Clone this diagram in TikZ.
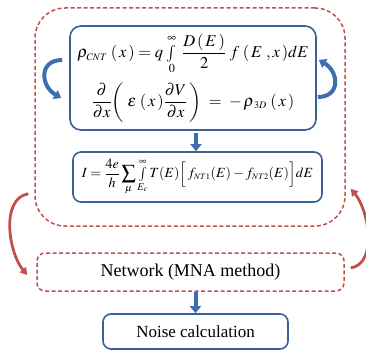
\documentclass[tikz,border=0pt]{standalone}
\usepackage{amsmath}
\usepackage{mathptmx}
\usepackage{fontspec}
\setmainfont{Liberation Serif}
\usepackage{tikz}
\usetikzlibrary{positioning, arrows.meta, calc}

\definecolor{boxblue}{RGB}{56,97,150}
\definecolor{arrowblue}{RGB}{62,110,175}
\definecolor{dashred}{RGB}{192,80,77}

\newcommand{\tinyint}{\mathop{\textstyle\int}\limits}

\begin{document}
\begin{tikzpicture}[x=1pt, y=1pt,
    eqbox/.style={rectangle, draw=boxblue, line width=1.6pt, rounded corners=11pt,
                  align=center, inner sep=0pt},
    redbox/.style={rectangle, draw=dashred, line width=1.5pt, dash pattern=on 4pt off 2.5pt,
                   rounded corners=8pt, inner sep=0pt},
    downarrow/.style={-{Triangle[length=7pt, width=11pt]}, line width=4pt, draw=arrowblue},
    bluecurve/.style={-{Triangle[length=7pt, width=10pt]}, line width=4pt, draw=arrowblue},
    redcurve/.style={-{Triangle[length=7pt, width=8pt]}, line width=2.8pt, draw=dashred}
]
    \useasboundingbox (0,0) rectangle (366,351);

    % Outer loop
    \node[redbox, rounded corners=30pt, minimum width=310pt, minimum height=218pt] (outer) at (190,234) {};

    % Poisson and charge equations
    \node[eqbox, minimum width=246pt, minimum height=104pt, font=\fontsize{16.5}{19}\selectfont] (poisson) at (193,273)
        {$\displaystyle \rho_{\scriptscriptstyle CNT}\;(\,x\,)= q\,\tinyint_{0}^{\infty}\;\frac{D\,(\,E\,)}{2}\;f\;(\,E\;,x\,)dE$\\[7pt]
         $\displaystyle \frac{\partial}{\partial x}\!\left(\;\varepsilon\;(\,x\,)\frac{\partial V}{\partial x}\,\right) \;=\; -\,\rho_{\,\scriptscriptstyle 3D}\;(\,x\,)$};

    % Current equation
    \node[eqbox, rounded corners=8pt, minimum width=249pt, minimum height=50pt, font=\fontsize{14}{17}\selectfont] (current) at (197.5,174)
        {$\displaystyle I=\frac{4e}{h}\sum_{\mu}\tinyint_{E_c}^{\infty}T(E)\Big[\,f_{\scriptscriptstyle NT1}(E)-f_{\scriptscriptstyle NT2}(E)\Big]dE$};

    % Network
    \node[redbox, minimum width=307pt, minimum height=38pt, font=\fontsize{18}{21}\selectfont] (network) at (190.5,79) {Network (MNA method)};

    % Noise
    \node[eqbox, rounded corners=8pt, minimum width=185pt, minimum height=35pt, font=\fontsize{17}{20}\selectfont] (noise) at (195.5,19.5) {Noise calculation};

    % Arrows showing flow
    \draw[downarrow] ($(poisson.south)+(3,-2)$) -- ($(poisson.south |- current.north)+(3,0)$);
    \draw[downarrow] (noise.north |- network.south) -- (noise.north);

    % Self-consistent loop
    \coordinate (lstart) at ($(poisson.west)+(-7,18)$);
    \coordinate (lend) at ($(poisson.west)+(-8,-20)$);
    \coordinate (rstart) at ($(poisson.east)+(1,-19)$);
    \coordinate (rend) at ($(poisson.east)+(2,18)$);
    \draw[bluecurve] (lstart) to[out=180, in=150, looseness=1.6] (lend);
    \draw[bluecurve] (rstart) to[out=0, in=-30, looseness=1.6] (rend);

    % Outer iteration
    \coordinate (ostart) at ($(outer.south west)+(-6,33)$);
    \coordinate (oend) at ($(network.west)+(-9,-3)$);
    \coordinate (nstart) at ($(network.east)+(6,4)$);
    \coordinate (nend) at ($(outer.south east)+(5,38)$);
    \draw[redcurve] (ostart) to[out=190, in=130, looseness=0.9] (oend);
    \draw[redcurve] (nstart) to[out=10, in=-50, looseness=0.9] (nend);

\end{tikzpicture}
\end{document}
